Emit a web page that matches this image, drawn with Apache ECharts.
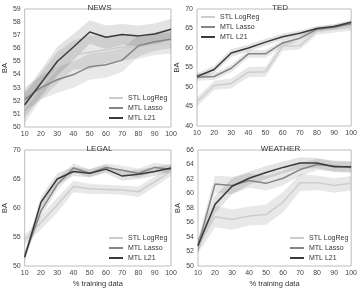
<!DOCTYPE html>
<html>
<head>
<meta charset="utf-8">
<script src="https://cdn.jsdelivr.net/npm/echarts@6/dist/echarts.min.js"></script>
<style>
  html, body { margin: 0; padding: 0; background: #fff; }
  #chart { width: 360px; height: 289px; }
</style>
</head>
<body>
<div id="chart"></div>
<script>
// % training data
const trainPct = [10, 20, 30, 40, 50, 60, 70, 80, 90, 100];
const seriesNames = ['STL LogReg', 'MTL Lasso', 'MTL L21'];

// NEWS
const newsStl   = [51.4, 53.1, 54.5, 55.5, 55.7, 55.9, 56.1, 56.1, 56.3, 56.4];
const newsLasso = [52.1, 53.0, 53.6, 54.0, 54.6, 54.75, 55.1, 56.2, 56.5, 56.7];
const newsL21   = [51.7, 53.35, 55.0, 56.1, 57.25, 56.85, 57.05, 56.95, 57.1, 57.45];
const newsStlSd   = [1.1, 1.0, 1.2, 1.1, 1.3, 1.0, 1.0, 0.9, 0.8, 0.8];
const newsLassoSd = [0.9, 0.9, 1.0, 1.0, 1.0, 1.0, 0.9, 0.8, 0.7, 0.7];
const newsL21Sd   = [1.0, 1.0, 1.1, 1.0, 0.9, 0.9, 0.8, 0.8, 0.8, 0.8];

// TED
const tedStl   = [46.2, 50.4, 50.9, 53.8, 53.9, 60.5, 60.6, 64.3, 64.8, 65.3];
const tedLasso = [52.5, 52.7, 54.8, 58.5, 58.5, 61.3, 62.5, 64.8, 65.3, 66.2];
const tedL21   = [52.7, 54.5, 58.7, 60.0, 61.5, 62.9, 63.8, 65.0, 65.5, 66.6];
const tedStlSd   = [1.2, 1.2, 1.3, 1.3, 1.3, 1.2, 1.0, 0.9, 0.9, 0.9];
const tedLassoSd = [0.9, 0.9, 1.0, 1.0, 1.0, 0.9, 0.8, 0.7, 0.7, 0.7];
const tedL21Sd   = [0.8, 0.9, 1.0, 0.9, 0.9, 0.8, 0.7, 0.6, 0.6, 0.6];

// LEGAL
const legalStl   = [54.5, 57.5, 60.5, 63.7, 63.3, 63.2, 63.1, 62.8, 64.5, 66.3];
const legalLasso = [51.8, 59.5, 64.0, 66.9, 66.0, 67.0, 66.5, 66.0, 67.0, 66.7];
const legalL21   = [51.5, 61.0, 65.0, 66.3, 66.0, 66.7, 65.5, 65.8, 66.3, 66.9];
const legalStlSd   = [0.8, 1.2, 1.3, 1.0, 0.9, 0.8, 0.8, 0.9, 0.9, 0.8];
const legalLassoSd = [0.7, 1.0, 1.0, 0.8, 0.7, 0.7, 0.8, 0.8, 0.8, 0.7];
const legalL21Sd   = [0.7, 1.0, 1.0, 0.8, 0.7, 0.7, 0.8, 0.8, 0.8, 0.7];

// WEATHER
const weatherStl   = [52.8, 56.8, 56.4, 56.9, 57.1, 58.8, 61.5, 61.5, 61.1, 61.4];
const weatherLasso = [52.8, 61.3, 61.1, 61.8, 61.4, 62.1, 63.3, 64.0, 63.8, 63.6];
const weatherL21   = [52.8, 58.5, 61.0, 62.1, 62.9, 63.6, 64.2, 64.2, 63.7, 63.7];
const weatherStlSd   = [1.0, 1.5, 1.4, 1.3, 1.4, 1.4, 1.2, 1.0, 1.0, 1.0];
const weatherLassoSd = [1.0, 1.2, 1.2, 1.0, 1.0, 1.0, 0.9, 0.8, 0.8, 0.8];
const weatherL21Sd   = [0.9, 1.2, 1.1, 0.9, 0.9, 0.8, 0.8, 0.7, 0.7, 0.7];

const panels = [
  { title: 'NEWS', min: 50, max: 59, interval: 1, xName: false,
    grid: { left: 18, top: 9, width: 153, height: 118 },
    legend: { left: 109, top: 94 },
    data: [newsStl, newsLasso, newsL21], sd: [newsStlSd, newsLassoSd, newsL21Sd] },
  { title: 'TED', min: 40, max: 70, interval: 5, xName: false,
    grid: { left: 197, top: 9, width: 156, height: 117 },
    legend: { left: 201, top: 13 },
    data: [tedStl, tedLasso, tedL21], sd: [tedStlSd, tedLassoSd, tedL21Sd] },
  { title: 'LEGAL', min: 50, max: 70, interval: 5, xName: true,
    grid: { left: 18, top: 150, width: 153, height: 118 },
    legend: { left: 109, top: 234 },
    data: [legalStl, legalLasso, legalL21], sd: [legalStlSd, legalLassoSd, legalL21Sd] },
  { title: 'WEATHER', min: 50, max: 66, interval: 2, xName: true,
    grid: { left: 198, top: 150, width: 155, height: 118 },
    legend: { left: 290, top: 234 },
    data: [weatherStl, weatherLasso, weatherL21], sd: [weatherStlSd, weatherLassoSd, weatherL21Sd] }
];

const LINE_COLORS = ['#cdcdcd', '#858585', '#3a3a3a'];
const BAND_COLORS = ['rgba(0,0,0,0.09)', 'rgba(0,0,0,0.09)', 'rgba(0,0,0,0.11)'];
const FONT = 'Liberation Sans, Arial, sans-serif';

const chart = echarts.init(document.getElementById('chart'), null, { renderer: 'canvas' });

const grids = [], xAxes = [], yAxes = [], series = [], titles = [], legends = [];

panels.forEach((p, i) => {
  grids.push(Object.assign({ show: true, borderColor: '#bdbdbd', borderWidth: 1, backgroundColor: '#fff' }, p.grid));
  titles.push({
    text: p.title,
    left: p.grid.left + p.grid.width / 2,
    top: p.grid.top - 10,
    textAlign: 'center',
    textStyle: { fontSize: 8, fontWeight: 'normal', color: '#333', fontFamily: FONT }
  });
  xAxes.push({
    type: 'value', gridIndex: i, min: 10, max: 100, interval: 10,
    axisLine: { show: false }, axisTick: { show: false }, splitLine: { show: false },
    axisLabel: { fontSize: 7, color: '#444', margin: 4, fontFamily: FONT },
    name: p.xName ? '% training data' : '', nameLocation: 'middle', nameGap: 14,
    nameTextStyle: { fontSize: 7.5, color: '#333', fontFamily: FONT }
  });
  yAxes.push({
    type: 'value', gridIndex: i, min: p.min, max: p.max, interval: p.interval,
    axisLine: { show: false }, axisTick: { show: false }, splitLine: { show: false },
    axisLabel: { fontSize: 7, color: '#444', margin: 4, fontFamily: FONT },
    name: 'BA', nameLocation: 'middle', nameGap: 12,
    nameTextStyle: { fontSize: 7.5, color: '#333', fontFamily: FONT }
  });
  legends.push({
    data: seriesNames, orient: 'vertical',
    left: p.legend.left, top: p.legend.top,
    icon: 'rect', itemWidth: 14, itemHeight: 2, itemGap: 2,
    padding: 0, selectedMode: false,
    textStyle: { fontSize: 7, color: '#333', fontFamily: FONT, lineHeight: 8, padding: [0, 0, 0, 0] }
  });

  // bands first, then lines
  p.data.forEach((vals, k) => {
    const sd = p.sd[k];
    const bandData = trainPct.map((x, j) => [x, vals[j] - sd[j], vals[j] + sd[j]]);
    series.push({
      type: 'custom', name: 'band' + i + '_' + k,
      xAxisIndex: i, yAxisIndex: i, silent: true, z: 1,
      data: bandData,
      renderItem: (params, api) => {
        if (params.dataIndex !== 0) return null;
        const up = bandData.map(d => api.coord([d[0], d[2]]));
        const lo = bandData.map(d => api.coord([d[0], d[1]])).reverse();
        return {
          type: 'polygon',
          shape: { points: up.concat(lo) },
          style: { fill: BAND_COLORS[k] }
        };
      },
      clip: true
    });
  });
  p.data.forEach((vals, k) => {
    series.push({
      type: 'line', name: seriesNames[k],
      xAxisIndex: i, yAxisIndex: i, z: 3 + k,
      data: trainPct.map((x, j) => [x, vals[j]]),
      showSymbol: false, symbol: 'none',
      lineStyle: { color: LINE_COLORS[k], width: 1.5 },
      itemStyle: { color: LINE_COLORS[k] },
      animation: false
    });
  });
});

chart.setOption({
  animation: false,
  title: titles,
  grid: grids,
  xAxis: xAxes,
  yAxis: yAxes,
  legend: legends,
  series: series
});
</script>
</body>
</html>
